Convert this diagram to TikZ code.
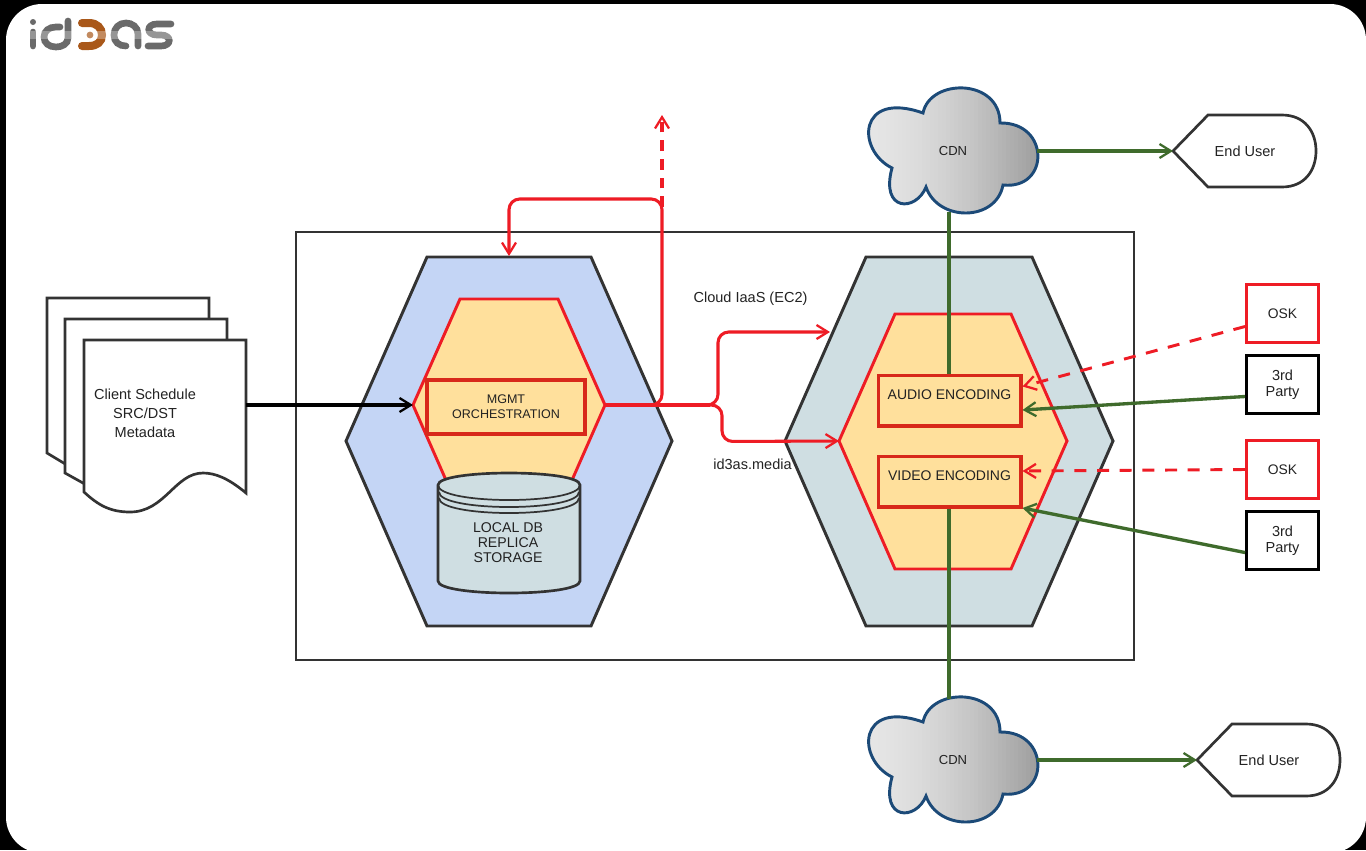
\documentclass[tikz,border=0pt]{standalone}
\usepackage{fontspec}
\setmainfont{Liberation Sans}
\usetikzlibrary{arrows.meta,calc}
\definecolor{hexblue}{HTML}{C4D5F5}
\definecolor{hexgrey}{HTML}{CFDEE2}
\definecolor{hexyellow}{HTML}{FFE09C}
\definecolor{linedark}{HTML}{333333}
\definecolor{redline}{HTML}{EE1C25}
\definecolor{redbox}{HTML}{D8281A}
\definecolor{greenline}{HTML}{3F6B2C}
\definecolor{cloudedge}{HTML}{1C4A78}
\definecolor{labelc}{HTML}{222222}
\definecolor{logogrey}{HTML}{6A6A6A}
\definecolor{logoorange}{HTML}{A9581A}
\tikzset{
  x=0.75pt,y=-0.75pt,
  barb/.style={-{Straight Barb[length=8.5pt,width=10.5pt,line width=1.7pt]}},
  hexouter/.style={draw=linedark,line width=2.2pt,line join=miter},
  hexinner/.style={draw=redline,fill=hexyellow,line width=2.2pt,line join=miter},
  redbx/.style={draw=redbox,fill=hexyellow,line width=2.5pt,inner sep=0pt,align=center,text=labelc},
  lbl/.style={font=\fontsize{10.9}{14.2}\selectfont,text=labelc,align=center,inner sep=0pt},
  redarrow/.style={draw=redline,line width=2.3pt,rounded corners=8pt,barb},
  greenarrow/.style={draw=greenline,line width=2.5pt,barb},
  greenplain/.style={draw=greenline,line width=2.7pt},
  reddash/.style={draw=redline,line width=2.2pt,dash pattern=on 9pt off 8pt,barb},
  reddashb/.style={draw=redline,line width=2.3pt,dash pattern=on 8pt off 6pt,barb},
  redsq/.style={draw=redline,fill=white,line width=2.2pt,minimum width=54pt,minimum height=43pt,inner sep=0pt,align=center},
  blacksq/.style={draw=black,fill=white,line width=2.2pt,minimum width=54pt,minimum height=43pt,inner sep=0pt,align=center},
  docsheet/.style={draw=linedark,fill=white,line width=2pt,line join=miter},
  enduser/.style={draw=linedark,fill=white,line width=2pt},
  logostroke/.style={draw=logogrey,line width=5pt,line cap=round},
  logoo/.style={draw=logoorange,line width=6pt,line cap=round},
}
\newcommand{\cloudoutline}{(892,168)
 .. controls (856,150) and (858,90) .. (923,113)
 .. controls (930,78) and (1000,78) .. (1000,123)
 .. controls (1050,122) and (1050,190) .. (1003,185)
 .. controls (996,222) and (938,222) .. (926,187)
 .. controls (916,212) and (880,212) .. (892,168) -- cycle}
\newcommand{\cloudat}[1]{%
\begin{scope}[yshift=#1]
\begin{scope}
\clip \cloudoutline;
\foreach \i in {0,...,44} {
  \pgfmathsetmacro{\pc}{10+30*(\i/44)^1.6}
  \fill[black!\pc!white] ({866+4*\i},70) rectangle ({871+4*\i},235);
}
\end{scope}
\draw[cloudedge,line width=2.2pt] \cloudoutline;
\end{scope}}
\begin{document}
\begin{tikzpicture}
\useasboundingbox (0,0) rectangle (1366,850);
\fill[black] (0,0) rectangle (1366,850);
\fill[white,rounded corners=27pt] (6,4) rectangle (1366,853);
% logo
\fill[logogrey] (33,22) circle[radius=3];
\draw[logostroke] (33,32) -- (33,46);
\draw[logostroke] (68,21) -- (68,38) .. controls (68,44) and (62,47) .. (56,47) .. controls (49,47) and (44,43) .. (44,37) .. controls (44,31) and (49,27) .. (56,27) -- (60,27);
\draw[logoo] (82,23) -- (89,23) .. controls (97,23) and (102,28) .. (102,35) .. controls (102,42) and (97,46) .. (89,46) -- (82,46);
\fill[logoorange] (90,35) circle[radius=3.4];
\draw[logostroke] (138,46) -- (138,34) .. controls (138,27) and (132,23) .. (126,23) .. controls (119,23) and (114,28) .. (114,35) .. controls (114,42) and (119,46) .. (126,46);
\draw[logostroke] (171,24) -- (157,24) .. controls (146,24) and (146,35) .. (157,35) -- (161,35) .. controls (172,35) and (172,46) .. (161,46) -- (148,46);
\fill[white,opacity=0.3] (28,31) rectangle (176,39);
% outer frame
\node[draw=linedark,line width=2.2pt,fill=white,minimum width=628.5pt,minimum height=321pt,inner sep=0pt] (frame) at (715,446) {};
% hexagons
\path[hexouter,fill=hexblue] (346,441) -- (427,257) -- (591,257) -- (672,441) -- (591,626) -- (427,626) -- cycle;
\path[hexinner] (413,405) -- (460,299) -- (558,299) -- (605,405) -- (558,512) -- (460,512) -- cycle;
\coordinate (mgmtleft) at (413,405);
\coordinate (mgmtright) at (605,405);
\path[hexouter,fill=hexgrey] (785,441) -- (866,257) -- (1032,257) -- (1113,441) -- (1032,626) -- (866,626) -- cycle;
\coordinate (greyhexleft) at (830,332);
\coordinate (yellowleft) at (839,441);
\path[hexinner] (839,441) -- (895,314) -- (1011,314) -- (1067,441) -- (1011,569) -- (895,569) -- cycle;
% storage
\path[draw=linedark,fill=hexgrey,line width=2pt] (438,485) .. controls (438,469) and (580,469) .. (580,485) -- (580,581) .. controls (580,597) and (438,597) .. (438,581) -- cycle;
\draw[linedark,line width=1.3pt] (438,485) .. controls (438,505) and (580,505) .. (580,485);
\draw[linedark,line width=1.3pt] (439,492) .. controls (439,512) and (579,512) .. (579,492);
\draw[linedark,line width=1.3pt] (439,498) .. controls (439,518) and (579,518) .. (579,498);
\node[lbl,font=\fontsize{10.6}{11.3}\selectfont] (db) at (508,543) {LOCAL DB\\REPLICA\\STORAGE};
% boxes
\node[redbx,minimum width=118.5pt,minimum height=40.5pt,font=\fontsize{9.4}{11.3}\selectfont] (mgmt) at (506,407) {MGMT\\ORCHESTRATION};
\node[redbx,minimum width=107pt,minimum height=38pt,font=\fontsize{10.5}{13}\selectfont] (audio) at (949.5,400.5) {\raisebox{1.1pt}[0pt][0pt]{AUDIO ENCODING}};
\node[redbx,minimum width=107pt,minimum height=38pt,font=\fontsize{10.5}{13}\selectfont] (video) at (949.5,481.5) {\raisebox{1.1pt}[0pt][0pt]{VIDEO ENCODING}};
% documents
\path[docsheet] (47,298) -- (209,298) -- (209,400) -- (72,468) -- (47,453) -- cycle;
\path[docsheet] (65,319) -- (227,319) -- (227,400) -- (92,488) -- (65,473) -- cycle;
\path[docsheet] (84,340) -- (246,340) -- (246,493) .. controls (228,478) and (215,473) .. (203,473) .. controls (175,473) and (165,512) .. (130,512) .. controls (110,512) and (98,505) .. (84,492) -- cycle;
\coordinate (docright) at (246,405);
\node[lbl] (docs) at (145,413) {Client Schedule\\SRC/DST\\Metadata};
% clouds
\cloudat{0pt}
\cloudat{-456.75pt}
\node[lbl,font=\fontsize{9.8}{12}\selectfont] (cdn1) at (953,151) {CDN};
\node[lbl,font=\fontsize{9.8}{12}\selectfont] (cdn2) at (953,760) {CDN};
\coordinate (cdn1r) at (1037,151);
\coordinate (cdn1b) at (949,212);
\coordinate (cdn2r) at (1037,760);
\coordinate (cdn2t) at (949,699);
% end users
\path[enduser] (1173,151) -- (1208,115) -- (1282,115) .. controls (1305,115) and (1316,132) .. (1316,151) .. controls (1316,170) and (1305,187) .. (1282,187) -- (1208,187) -- cycle;
\coordinate (eu1) at (1173,151);
\node[lbl] (eu1t) at (1245,151) {End User};
\path[enduser] (1197,760) -- (1232,724) -- (1306,724) .. controls (1329,724) and (1340,741) .. (1340,760) .. controls (1340,779) and (1329,796) .. (1306,796) -- (1232,796) -- cycle;
\coordinate (eu2) at (1197,760);
\node[lbl] (eu2t) at (1269,760) {End User};
% side boxes
\node[redsq,lbl,font=\fontsize{10.4}{12}\selectfont] (osk1) at (1282.5,313.5) {OSK};
\node[blacksq,lbl,font=\fontsize{10.9}{12}\selectfont] (third1) at (1282.5,384.5) {3rd\\Party};
\node[redsq,lbl,font=\fontsize{10.4}{12}\selectfont] (osk2) at (1282.5,469.5) {OSK};
\node[blacksq,lbl,font=\fontsize{10.9}{12}\selectfont] (third2) at (1282.5,540.5) {3rd\\Party};
% connectors
\draw[greenplain] (cdn1b) -- (audio.north -| cdn1b);
\draw[greenplain] (video.south -| cdn2t) -- (cdn2t);
\draw[greenplain,barb] (cdn1r) -- (eu1);
\draw[greenplain,barb] (cdn2r) -- (eu2);
\draw[reddash] ($(osk1.west)+(0,13)$) -- ($(audio.east)+(0,-14)$);
\draw[greenarrow] ($(third1.west)+(0,12)$) -- ($(audio.east)+(0,9.5)$);
\draw[reddash] (osk2.west) -- ($(video.east)+(0,-10.5)$);
\draw[greenarrow] ($(third2.west)+(0,12)$) -- ($(video.east)+(0,26.5)$);
\draw[draw=black,line width=2.4pt,barb] (docright) -- (mgmtleft);
\draw[draw=redline,line width=2.7pt] (mgmtright) -- (710,405);
\draw[redarrow] (708,405) -- (718,405) -- (718,332) -- (greyhexleft);
\draw[redarrow] (708,405) -- (722,405) -- (722,441.5) -- (yellowleft);
\draw[redarrow] (640,405) -- (662,405) -- (662,199) -- (509,199) -- (509,256);
\draw[reddashb] (662,207) -- (662,115);
% texts
\node[lbl] (cloudlbl) at (750.5,298.5) {Cloud IaaS (EC2)};
\node[lbl] (medialbl) at (752.5,464) {id3as.media};
\end{tikzpicture}
\end{document}
